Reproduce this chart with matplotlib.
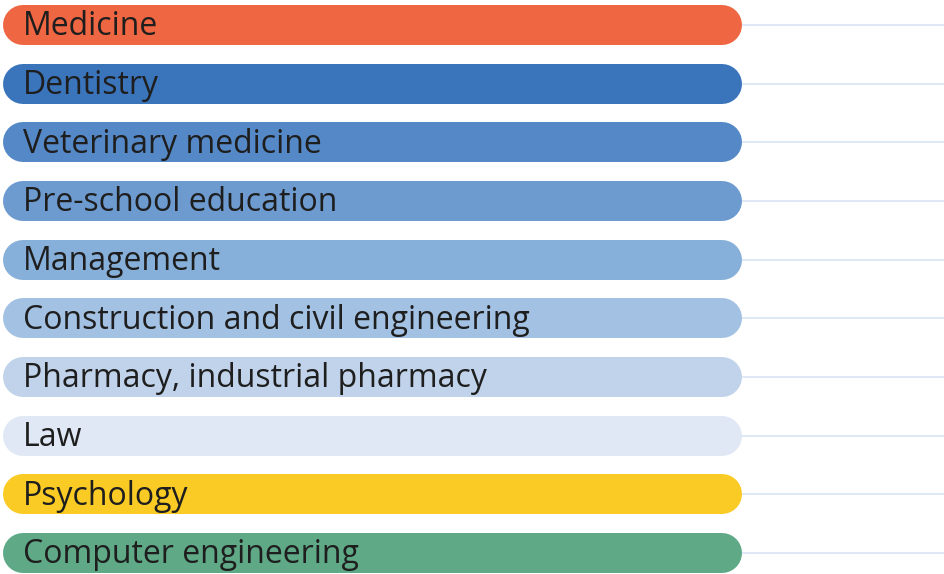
import matplotlib
matplotlib.use("Agg")
import matplotlib.pyplot as plt

# Data
categories = [
    "Medicine",
    "Dentistry",
    "Veterinary medicine",
    "Pre-school education",
    "Management",
    "Construction and civil engineering",
    "Pharmacy, industrial pharmacy",
    "Law",
    "Psychology",
    "Computer engineering",
]
values = [100, 100, 100, 100, 100, 100, 100, 100, 100, 100]
colors = [
    "#EF6642", "#3A75BC", "#5588C6", "#6D9BD0", "#86B0DA",
    "#A3C1E2", "#C0D3EA", "#DFE8F4", "#F9CB24", "#5FA987",
]

W, H, DPI = 945, 574, 100
fig = plt.figure(figsize=(W / DPI, H / DPI), dpi=DPI)
ax = fig.add_axes([0, 0, 1, 1])

# layout in pixels -> axis limits
px_x = 739 / 100.0          # pixels per value unit
px_y = 58.67                # pixels per row
ax.set_xlim(-3 / px_x, (W - 3) / px_x)
ax.set_ylim((H - 25) / px_y, -25 / px_y)
ax.axis("off")

bar_px = 40                      # bar thickness in pixels
bar_lw = bar_px * 72 / DPI       # in points
r_x = bar_px / 2 / px_x
line_end = (W - 3) / px_x

for i, (cat, val, col) in enumerate(zip(categories, values, colors)):
    # faint guide line to the right
    ax.plot([val - r_x, line_end], [i, i], color="#DCE7F4", lw=1.3,
            solid_capstyle="butt", zorder=1)
    # pill shaped bar: thick line with round caps
    ax.plot([r_x, val - r_x], [i, i], color=col, lw=bar_lw,
            solid_capstyle="round", zorder=2)
    ax.text(20 / px_x, i + 0.03, cat, fontsize=23, family="Open Sans",
            color="#1E1E1E", va="center", ha="left", zorder=3)

fig.savefig("out.png", dpi=DPI)
